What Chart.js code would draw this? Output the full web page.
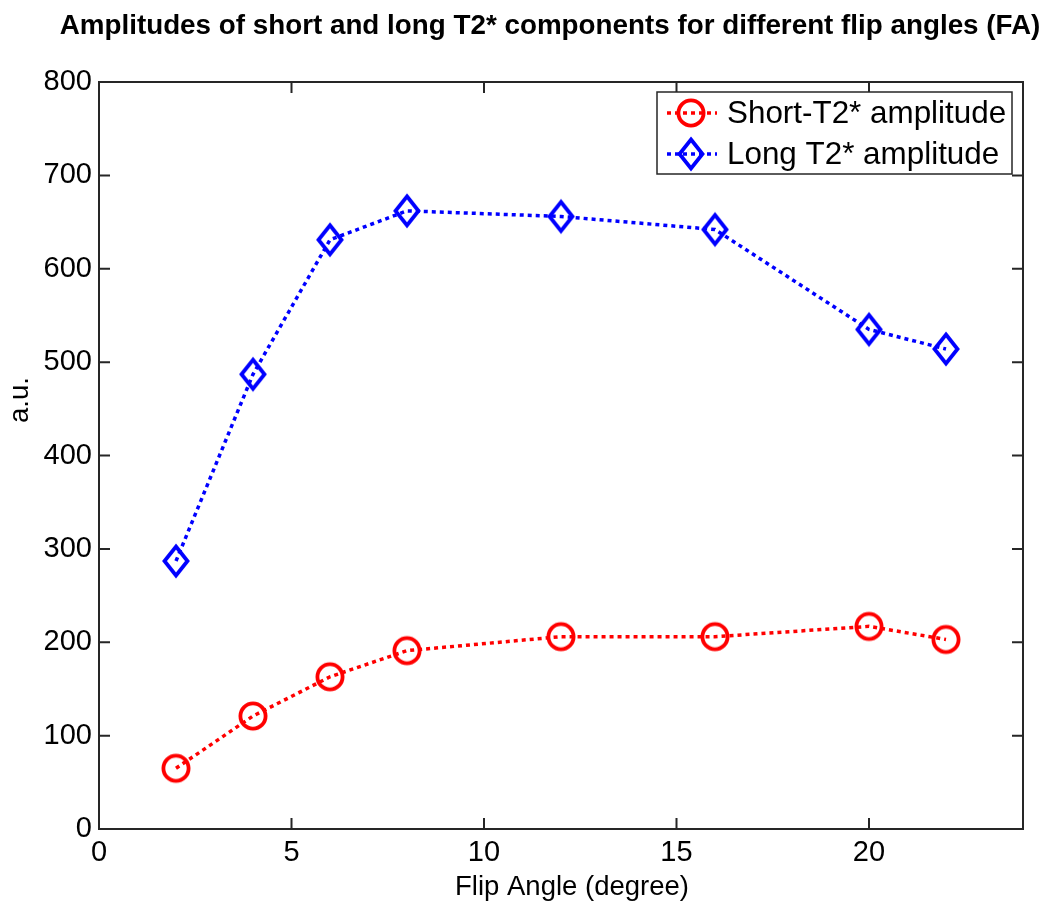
<!DOCTYPE html>
<html>
<head>
<meta charset="utf-8">
<script src="https://cdn.jsdelivr.net/npm/chart.js@4/dist/chart.umd.min.js"></script>
<style>
  html, body { margin: 0; padding: 0; background: #fff; }
  #wrap { width: 1063px; height: 921px; position: relative; }
</style>
</head>
<body>
<div id="wrap"><canvas id="chart"></canvas></div>
<script>
// flip angles (degree)
const flipAngles = [2, 4, 6, 8, 12, 16, 20, 22];
const shortT2 = [65, 121, 163, 191, 206, 206, 217, 203];
const longT2 = [287, 487, 631, 662, 656, 642, 535, 514];
const xTicks = [0, 5, 10, 15, 20];
const yTicks = [0, 100, 200, 300, 400, 500, 600, 700, 800];

const FONT = 'Arial, "Liberation Sans", sans-serif';

// matlab-like open markers drawn on small canvases
function makeMarker(type, color) {
    const c = document.createElement('canvas');
    c.width = 40; c.height = 40;
    const g = c.getContext('2d');
    g.strokeStyle = color;
    g.lineWidth = 3.8;
    g.beginPath();
    if (type === 'circle') {
        g.arc(20, 20, 12.6, 0, Math.PI * 2);
    } else {
        g.moveTo(20, 5.5); g.lineTo(31.5, 20); g.lineTo(20, 34.5); g.lineTo(8.5, 20); g.closePath();
    }
    g.stroke();
    return c;
}
const circleRed = makeMarker('circle', '#ff0000');
const diamondBlue = makeMarker('diamond', '#0000ff');

// box + inward ticks + titles + legend
const matlabAxes = {
    id: 'matlabAxes',
    afterDraw(chart) {
        const ctx = chart.ctx;
        const a = chart.chartArea;
        const xs = chart.scales.x, ys = chart.scales.y;
        ctx.save();
        ctx.strokeStyle = '#262626';
        ctx.lineWidth = 2;
        ctx.strokeRect(a.left, a.top, a.right - a.left, a.bottom - a.top);
        const len = 11;
        xTicks.forEach(v => {
            const px = xs.getPixelForValue(v);
            ctx.beginPath();
            ctx.moveTo(px, a.bottom); ctx.lineTo(px, a.bottom - len);
            ctx.moveTo(px, a.top); ctx.lineTo(px, a.top + len);
            ctx.stroke();
        });
        yTicks.forEach(v => {
            const py = ys.getPixelForValue(v);
            ctx.beginPath();
            ctx.moveTo(a.left, py); ctx.lineTo(a.left + len, py);
            ctx.moveTo(a.right, py); ctx.lineTo(a.right - len, py);
            ctx.stroke();
        });

        // title
        ctx.fillStyle = '#000';
        ctx.font = 'bold 27.8px ' + FONT;
        ctx.textAlign = 'center';
        ctx.textBaseline = 'middle';
        ctx.fillText('Amplitudes of short and long T2* components for different flip angles (FA)', 550, 26);

        // axis titles
        ctx.font = '27.5px ' + FONT;
        ctx.fillText('Flip Angle (degree)', 572, 887);
        ctx.save();
        ctx.translate(28, 400);
        ctx.rotate(-Math.PI / 2);
        ctx.textBaseline = 'alphabetic';
        ctx.fillText('a.u.', 0, 0);
        ctx.restore();

        // legend
        const lx = 657, ly = 92, lw = 355, lh = 82;
        ctx.fillStyle = '#fff';
        ctx.fillRect(lx, ly, lw, lh);
        ctx.strokeStyle = '#262626';
        ctx.lineWidth = 1.5;
        ctx.strokeRect(lx, ly, lw, lh);
        ctx.font = '31.4px ' + FONT;
        ctx.textAlign = 'left';
        chart.data.datasets.forEach((ds, i) => {
            const cy = ly + 21 + i * 41;
            ctx.strokeStyle = ds.borderColor;
            ctx.lineWidth = 3.5;
            ctx.setLineDash([4, 4]);
            ctx.beginPath();
            ctx.moveTo(lx + 10, cy); ctx.lineTo(lx + 60, cy);
            ctx.stroke();
            ctx.setLineDash([]);
            const m = ds.pointStyle;
            ctx.drawImage(m, lx + 34 - m.width / 2, cy - m.height / 2);
            ctx.fillStyle = '#000';
            ctx.fillText(ds.label, lx + 70, cy + 1);
        });
        ctx.restore();
    }
};

new Chart(document.getElementById('chart'), {
    type: 'line',
    data: {
        datasets: [
            {
                label: 'Short-T2* amplitude',
                data: flipAngles.map((x, i) => ({x: x, y: shortT2[i]})),
                borderColor: '#ff0000',
                backgroundColor: 'rgba(0,0,0,0)',
                borderWidth: 3.5,
                borderDash: [4, 4],
                pointStyle: circleRed,
                pointRadius: 14
            },
            {
                label: 'Long T2* amplitude',
                data: flipAngles.map((x, i) => ({x: x, y: longT2[i]})),
                borderColor: '#0000ff',
                backgroundColor: 'rgba(0,0,0,0)',
                borderWidth: 3.5,
                borderDash: [4, 4],
                pointStyle: diamondBlue,
                pointRadius: 15
            }
        ]
    },
    options: {
        responsive: true,
        maintainAspectRatio: false,
        animation: false,
        layout: { padding: { top: 82, right: 40, left: 0, bottom: 0 } },
        plugins: {
            legend: { display: false },
            tooltip: { enabled: false }
        },
        scales: {
            x: {
                type: 'linear',
                min: 0,
                max: 24,
                afterBuildTicks(scale) { scale.ticks = xTicks.map(v => ({value: v})); },
                afterFit(scale) { scale.height = 92; },
                grid: { display: false, drawTicks: false },
                border: { display: false },
                ticks: { color: '#000', padding: 7, maxRotation: 0, font: { size: 29, family: FONT } }
            },
            y: {
                min: 0,
                max: 800,
                afterBuildTicks(scale) { scale.ticks = yTicks.map(v => ({value: v})); },
                afterFit(scale) { scale.width = 99; },
                grid: { display: false, drawTicks: false },
                border: { display: false },
                ticks: { color: '#000', padding: 7, font: { size: 29, family: FONT } }
            }
        }
    },
    plugins: [matlabAxes]
});
</script>
</body>
</html>
